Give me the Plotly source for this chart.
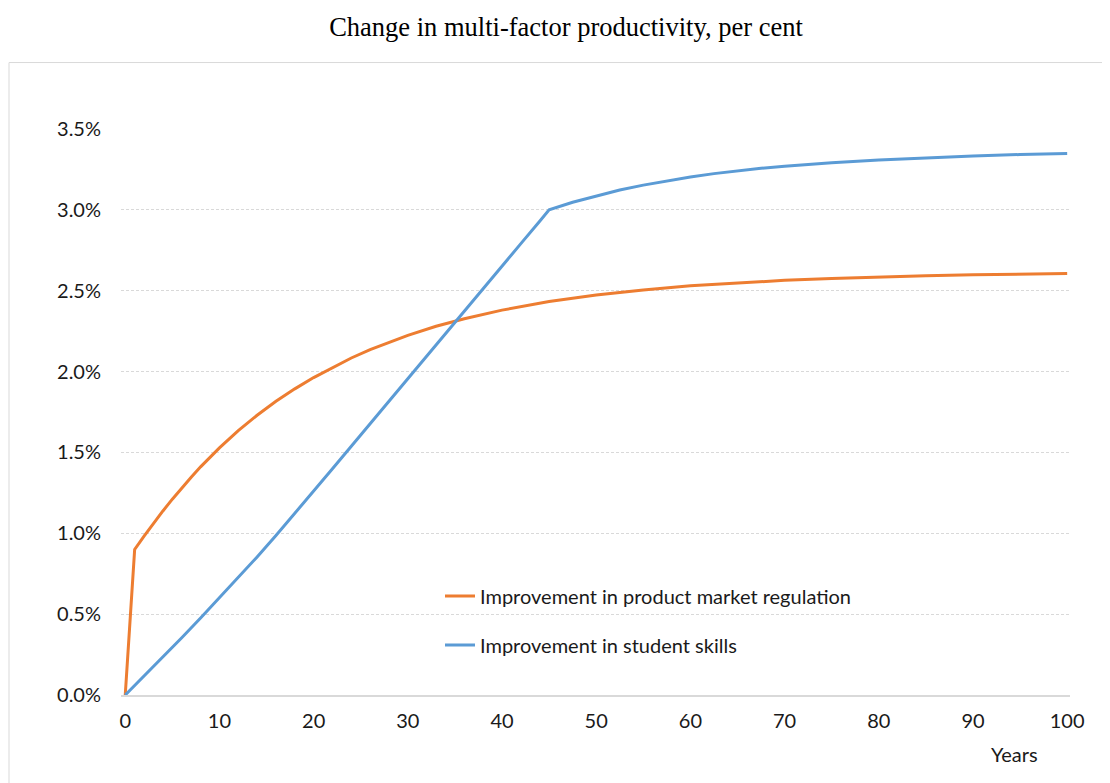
import plotly.graph_objects as go

# ---- data ----
pmr_years = [0, 1, 2, 3, 4, 5, 6, 7, 8, 9, 10, 12, 14, 16, 18, 20, 22, 24, 26, 28, 30,
             33, 36, 40, 45, 50, 55, 60, 65, 70, 75, 80, 85, 90, 95, 100]
pmr_values = [0.0, 0.900, 0.982, 1.062, 1.138, 1.211, 1.281, 1.347, 1.411, 1.471, 1.528,
              1.635, 1.730, 1.816, 1.893, 1.963, 2.026, 2.084, 2.136, 2.182, 2.224,
              2.280, 2.327, 2.380, 2.433, 2.473, 2.505, 2.530, 2.549, 2.564, 2.576,
              2.585, 2.592, 2.598, 2.603, 2.607]

skills_years = [0, 2, 4, 6, 8, 10, 12, 14, 16, 18, 20, 22, 24, 26, 28, 30, 32, 34, 36,
                38, 40, 42, 44, 45, 47.5, 50, 52.5, 55, 57.5, 60, 62.5, 65, 67.5, 70,
                75, 80, 85, 90, 95, 100]
skills_values = [0.0, 0.116, 0.234, 0.354, 0.476, 0.600, 0.726, 0.854, 0.986, 1.122,
                 1.260, 1.399, 1.538, 1.678, 1.817, 1.956, 2.095, 2.235, 2.374, 2.513,
                 2.652, 2.791, 2.930, 3.0, 3.047, 3.087, 3.123, 3.153, 3.180, 3.203,
                 3.224, 3.241, 3.257, 3.270, 3.292, 3.308, 3.322, 3.333, 3.342, 3.348]

y_ticks = [0, 0.5, 1.0, 1.5, 2.0, 2.5, 3.0, 3.5]
y_tick_labels = ["0.0%", "0.5%", "1.0%", "1.5%", "2.0%", "2.5%", "3.0%", "3.5%"]
x_ticks = [0, 10, 20, 30, 40, 50, 60, 70, 80, 90, 100]

series_names = ["Improvement in product market regulation", "Improvement in student skills"]
series_colors = ["#ED7D31", "#5B9BD5"]

TEXT_FONT = "Lato, Carlito, Calibri, sans-serif"
TEXT_COLOR = "#1a1a1a"
GRID = "#d9d9d9"
FS = 20

fig = go.Figure()
fig.add_trace(go.Scatter(x=pmr_years, y=pmr_values, mode="lines", name=series_names[0],
                         line=dict(color=series_colors[0], width=3), legend="legend"))
fig.add_trace(go.Scatter(x=skills_years, y=skills_values, mode="lines", name=series_names[1],
                         line=dict(color=series_colors[1], width=3), legend="legend2"))

# page has an 8px body margin; positions below are in screenshot pixels
OFF = 8
W, H = 1102, 775
L, R, T, B = 121 - OFF, W - (1070 - OFF), 128.5 - OFF, H - (695 - OFF)
pw, ph = W - L - R, H - T - B

def px_to_paper_x(px):
    return (px - OFF - L) / pw

def px_to_paper_y(py):
    return (H - B - (py - OFF)) / ph

legend_common = dict(xanchor="left", yanchor="middle", bgcolor="rgba(0,0,0,0)",
                     font=dict(family=TEXT_FONT, size=FS, color=TEXT_COLOR),
                     itemwidth=30, borderwidth=0)

fig.update_layout(
    width=W, height=H,
    margin=dict(l=L, r=R, t=T, b=B),
    paper_bgcolor="white", plot_bgcolor="white",
    title=dict(text="Change in multi-factor productivity, per cent",
               font=dict(family="Liberation Serif, Times New Roman, serif", size=26.5, color="#000"),
               x=(566 - OFF) / W, xanchor="center", y=1 - (27 - OFF) / H, yanchor="middle"),
    showlegend=True,
    legend=dict(x=px_to_paper_x(440), y=px_to_paper_y(596), **legend_common),
    legend2=dict(x=px_to_paper_x(440), y=px_to_paper_y(645), **legend_common),
    xaxis=dict(range=[-0.45, 100.3], tickmode="array", tickvals=x_ticks,
               showgrid=False, zeroline=False, showline=True, linecolor=GRID, linewidth=1.5,
               ticks="", ticklabelstandoff=7,
               tickfont=dict(family=TEXT_FONT, size=FS, color=TEXT_COLOR)),
    yaxis=dict(range=[0, 3.5], tickmode="array", tickvals=y_ticks, ticktext=y_tick_labels,
               showgrid=True, gridcolor=GRID, gridwidth=1, griddash="3px,2px",
               zeroline=False, showline=False, ticks="", ticklabelstandoff=19,
               tickfont=dict(family=TEXT_FONT, size=FS, color=TEXT_COLOR)),
    annotations=[dict(text="Years", xref="paper", yref="paper",
                      x=px_to_paper_x(1014), y=px_to_paper_y(754),
                      xanchor="center", yanchor="middle", showarrow=False,
                      font=dict(family=TEXT_FONT, size=FS, color=TEXT_COLOR))],
    shapes=[dict(type="rect", xref="paper", yref="paper", layer="below",
                 x0=px_to_paper_x(9), x1=px_to_paper_x(1140),
                 y0=px_to_paper_y(810), y1=px_to_paper_y(62),
                 line=dict(color=GRID, width=1), fillcolor="rgba(0,0,0,0)")],
)

fig.write_html("out.html")
